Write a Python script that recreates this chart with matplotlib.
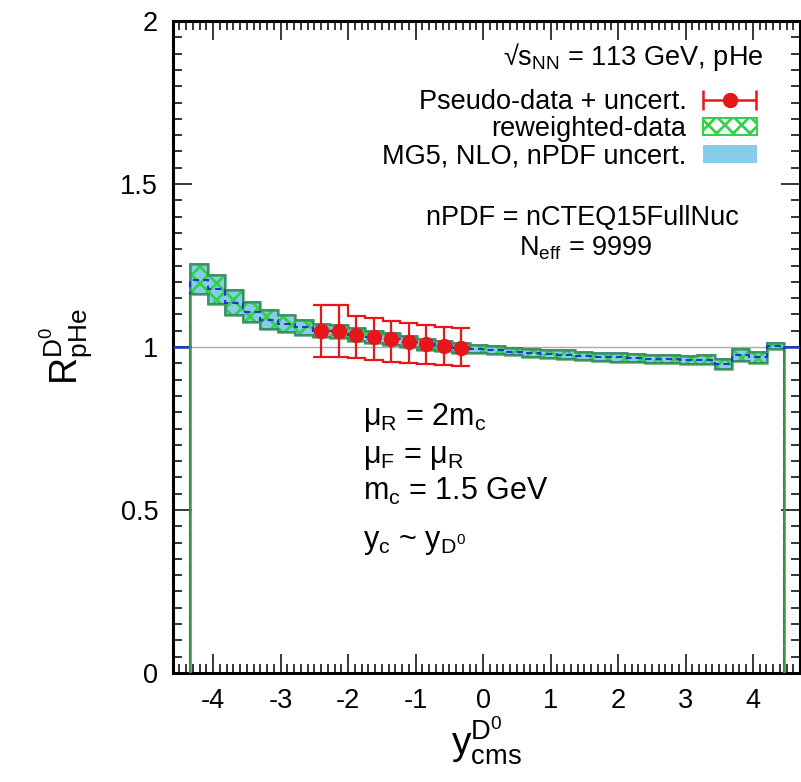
import numpy as np
import matplotlib
matplotlib.use('Agg')
import matplotlib.pyplot as plt
from matplotlib.patches import Patch
from matplotlib.legend_handler import HandlerErrorbar

plt.rcParams['font.family'] = ['Liberation Sans', 'DejaVu Sans']
plt.rcParams['mathtext.fontset'] = 'custom'
plt.rcParams['mathtext.rm'] = 'Liberation Sans'
plt.rcParams['mathtext.it'] = 'Liberation Sans'
plt.rcParams['mathtext.default'] = 'regular'
plt.rcParams['hatch.linewidth'] = 2.0

# ---------------- data ----------------
bin_start = -4.34
bin_width = 0.259
n_bins = 34

# MG5 NLO central value and nPDF band per bin
mg5_center = [1.206, 1.178, 1.135, 1.106, 1.084, 1.071, 1.060, 1.050, 1.048,
              1.037, 1.030, 1.024, 1.016, 1.008, 1.003, 0.996, 0.994, 0.990,
              0.986, 0.982, 0.979, 0.977, 0.973, 0.970, 0.968, 0.966, 0.964,
              0.963, 0.960, 0.961, 0.948, 0.976, 0.968, 1.003]
mg5_hi = [1.255, 1.221, 1.175, 1.139, 1.113, 1.098, 1.083, 1.070, 1.068,
          1.057, 1.049, 1.042, 1.033, 1.025, 1.019, 1.011, 1.005, 1.002,
          0.998, 0.995, 0.992, 0.990, 0.986, 0.983, 0.981, 0.979, 0.977,
          0.976, 0.973, 0.974, 0.962, 0.995, 0.986, 1.012]
mg5_lo = [1.162, 1.131, 1.098, 1.078, 1.055, 1.045, 1.037, 1.030, 1.028,
          1.019, 1.012, 1.006, 0.999, 0.992, 0.987, 0.981, 0.983, 0.979,
          0.975, 0.970, 0.967, 0.964, 0.960, 0.957, 0.955, 0.953, 0.951,
          0.950, 0.947, 0.948, 0.934, 0.957, 0.951, 0.994]

# pseudo-data points (bins 8..16)
first_data_bin = 7
data_y = [1.049, 1.049, 1.037, 1.030, 1.024, 1.016, 1.008, 1.003, 0.996]
data_err_up = [0.080, 0.080, 0.059, 0.058, 0.056, 0.057, 0.059, 0.059, 0.061]
data_err_dn = [0.079, 0.079, 0.072, 0.070, 0.069, 0.064, 0.060, 0.058, 0.053]

x_ticks = [-4, -3, -2, -1, 0, 1, 2, 3, 4]
y_ticks = [0, 0.5, 1, 1.5, 2]
y_tick_labels = ['0', '0.5', '1', '1.5', '2']

# ---------------- derived ----------------
edges = bin_start + bin_width * np.arange(n_bins + 1)
centers = 0.5 * (edges[:-1] + edges[1:])
mg5_center = np.array(mg5_center)
mg5_hi = np.array(mg5_hi)
mg5_lo = np.array(mg5_lo)
data_y = np.array(data_y)
data_err_up = np.array(data_err_up)
data_err_dn = np.array(data_err_dn)
data_x = centers[first_data_bin:first_data_bin + len(data_y)]
data_edges = edges[first_data_bin:first_data_bin + len(data_y) + 1]

FS = 19.5
FS2 = 22
skyblue = '#87cdea'
green = '#33d04a'
dkgreen = '#3a9a4a'
blue = '#1a3cc8'
red = '#e8151b'

fig = plt.figure(figsize=(8.01, 7.82), dpi=100)
ax = fig.add_axes([0.2165, 0.1394, 0.7825, 0.8337])
xlim = (-4.59, 4.69)

# reference line
ax.axhline(1, color='#aaaaaa', lw=1.0, zorder=1)

# MG5 band
ax.stairs(mg5_hi, edges, baseline=mg5_lo, fill=True, color=skyblue, lw=0, zorder=2)
# reweighted band (hatched)
ax.stairs(mg5_hi, edges, baseline=mg5_lo, fill=True, facecolor='none',
          edgecolor=green, hatch='xx', lw=0, zorder=3)
# outlines
ax.stairs(mg5_hi, edges, color=blue, lw=1.2, zorder=4, alpha=0.8)
ax.stairs(mg5_lo, edges, color=blue, lw=1.2, zorder=4, alpha=0.8)
ax.stairs(mg5_hi, edges, baseline=mg5_lo, fill=False, color=dkgreen, lw=1.8, zorder=4, alpha=0.85)
# central value
ax.stairs(mg5_center, edges, color=blue, lw=1.5, ls=(0, (3, 2)), zorder=5)
ax.hlines(1, xlim[0], edges[0], color=blue, lw=1.8, zorder=5)
ax.hlines(1, edges[-1], xlim[1], color=blue, lw=1.8, zorder=5)
ax.vlines([edges[0], edges[-1]], 0, [mg5_lo[0], mg5_lo[-1]], color=dkgreen, lw=1.8, zorder=5)

# pseudo-data
ax.stairs(data_y + data_err_up, data_edges, baseline=None, color=red, lw=1.6, zorder=6)
ax.stairs(data_y - data_err_dn, data_edges, baseline=None, color=red, lw=1.6, zorder=6)
ax.errorbar(data_x, data_y, yerr=[data_err_dn, data_err_up], fmt='o', color=red,
            ms=10, elinewidth=1.6, capsize=0, zorder=7)

# legend
h_data = ax.errorbar([np.nan], [np.nan], xerr=[1], fmt='o', color=red, ms=10,
                     elinewidth=1.8, capsize=7, capthick=1.8)
h_rw = Patch(facecolor='white', edgecolor=green, hatch='xx', lw=1.5)
h_mg = Patch(facecolor=skyblue, edgecolor='none')
ax.legend([h_data, h_rw, h_mg],
          ['Pseudo-data + uncert.', 'reweighted-data', 'MG5, NLO, nPDF uncert.'],
          loc='upper right', bbox_to_anchor=(0.931, 0.896), frameon=False,
          fontsize=FS, markerfirst=False, handlelength=2.0, handletextpad=0.6,
          borderpad=0, borderaxespad=0, labelspacing=0.05, handleheight=0.6,
          handler_map={type(h_data): HandlerErrorbar(xerr_size=0.98)})

ax.text(0.941, 0.9325, '√s$_{NN}$ = 113 GeV, pHe', transform=ax.transAxes,
        ha='right', va='baseline', fontsize=FS)
ax.text(0.652, 0.687, 'nPDF = nCTEQ15FullNuc', transform=ax.transAxes,
        ha='center', va='baseline', fontsize=FS)
ax.text(0.658, 0.641, 'N$_{eff}$ = 9999', transform=ax.transAxes,
        ha='center', va='baseline', fontsize=FS)

ax.text(0.303, 0.380, 'μ$_R$ = 2m$_c$', transform=ax.transAxes, ha='left', va='baseline', fontsize=FS2)
ax.text(0.303, 0.322, 'μ$_F$ = μ$_R$', transform=ax.transAxes, ha='left', va='baseline', fontsize=FS2)
ax.text(0.303, 0.265, 'm$_c$ = 1.5 GeV', transform=ax.transAxes, ha='left', va='baseline', fontsize=FS2)
ax.text(0.303, 0.192, 'y$_c$ ~ y$_{D^0}$', transform=ax.transAxes, ha='left', va='baseline', fontsize=FS2)

ax.set_xlim(*xlim)
ax.set_ylim(0, 2)
ax.set_xticks(x_ticks)
ax.set_xticklabels([str(t) for t in x_ticks])
ax.set_yticks(y_ticks)
ax.set_yticklabels(y_tick_labels)
ax.set_xticks(np.arange(-4.5, 4.71, 0.1), minor=True)
ax.set_yticks(np.arange(0, 2.01, 0.05), minor=True)
ax.tick_params(which='both', direction='in', top=True, right=True, labelsize=FS, pad=11)
ax.tick_params(which='major', length=14, width=1.1)
ax.tick_params(which='minor', length=6.5, width=1.1)
for s in ax.spines.values():
    s.set_linewidth(2.2)

ax.set_xlabel('y$^{D^0}_{cms}$', fontsize=28, labelpad=0)
ax.set_ylabel('R$^{D^0}_{pHe}$', fontsize=27, labelpad=18)

fig.savefig('out.png', dpi=100)
